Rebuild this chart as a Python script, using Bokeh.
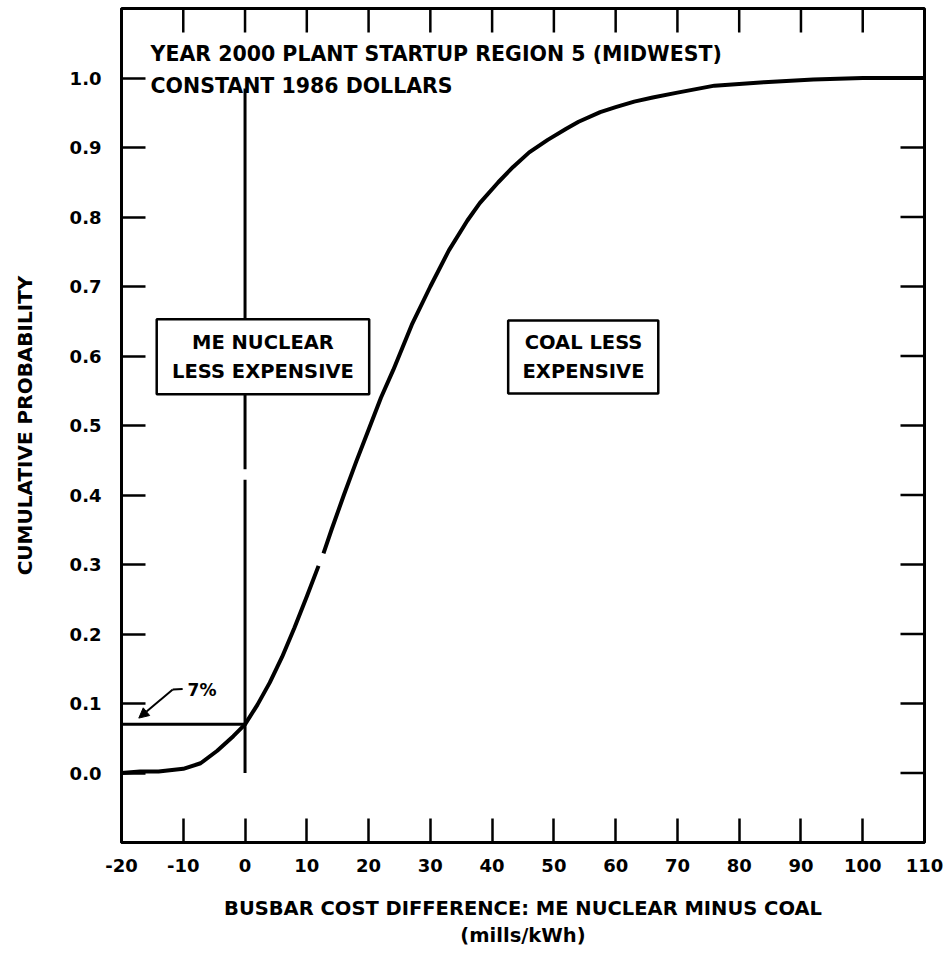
import math
from bokeh.plotting import figure
from bokeh.models import FixedTicker, Range1d, Arrow, NormalHead
from bokeh.core.properties import value
from bokeh.embed import file_html
from bokeh.resources import INLINE

nan = float("nan")

# ---------------- data ----------------
x_ticks = [-20, -10, 0, 10, 20, 30, 40, 50, 60, 70, 80, 90, 100, 110]
x_tick_labels = ["-20", "-10", "0", "10", "20", "30", "40", "50", "60", "70", "80", "90", "100", "110"]
y_ticks = [0.0, 0.1, 0.2, 0.3, 0.4, 0.5, 0.6, 0.7, 0.8, 0.9, 1.0]
y_tick_labels = ["0.0", "0.1", "0.2", "0.3", "0.4", "0.5", "0.6", "0.7", "0.8", "0.9", "1.0"]

# cumulative probability curve (NaN = small break visible in the original print)
curve_x = [-20, -17, -14, -10, -7.2, -4.5, -1.9, 0, 2, 4, 6, 8, 10, 11.9, nan,
           12.7, 14, 16, 18, 20, 22, 24, 27, 30, 33, 36, 38, 41, 43.4, 46, 49, 52,
           54, 57.5, 60, 63, 66, 70, 76, 84, 92, 100, 110]
curve_y = [0.000, 0.002, 0.002, 0.006, 0.014, 0.032, 0.053, 0.070, 0.098, 0.130, 0.167,
           0.209, 0.254, 0.298, nan,
           0.316, 0.350, 0.400, 0.448, 0.494, 0.540, 0.580, 0.645, 0.700, 0.752, 0.795,
           0.820, 0.850, 0.872, 0.893, 0.911, 0.927, 0.937, 0.951, 0.958, 0.966, 0.972,
           0.979, 0.989, 0.994, 0.998, 1.000, 1.000]

# break-even line (x = 0) and the 7% reading
zero_line_x = [0, 0, nan, 0, 0]
zero_line_y = [0.0, 0.422, nan, 0.437, 0.985]
pct_line_x = [-20, 0]
pct_line_y = [0.07, 0.07]

# annotations
title_lines = ["YEAR 2000 PLANT STARTUP REGION 5 (MIDWEST)", "CONSTANT 1986 DOLLARS"]
title_x = [-15.3, -15.3]
title_y = [1.034, 0.989]

box_left = [-14.3, 42.6]
box_right = [20.1, 66.9]
box_top = [0.653, 0.651]
box_bottom = [0.545, 0.546]
box_text = ["ME NUCLEAR", "LESS EXPENSIVE", "COAL LESS", "EXPENSIVE"]
box_text_x = [2.9, 2.9, 54.8, 54.8]
box_text_y = [0.619, 0.577, 0.620, 0.578]

pct_label = ["7%"]
pct_label_x = [-9.3]
pct_label_y = [0.119]
leader_x = [-10.1, -11.7]
leader_y = [0.121, 0.120]
arrow_tip_x = -17.2
arrow_tip_y = 0.079

FONT = "DejaVu Sans"
X_MIN, X_MAX, Y_MIN, Y_MAX = -20, 110, -0.1, 1.1
TICK_LEN = 24

p = figure(width=945, height=953, output_backend="svg", toolbar_location=None,
           x_range=Range1d(X_MIN, X_MAX), y_range=Range1d(Y_MIN, Y_MAX),
           min_border_left=121, min_border_right=21, min_border_top=8, min_border_bottom=111,
           background_fill_color="white", border_fill_color="white")
p.grid.visible = False
p.outline_line_color = "black"
p.outline_line_width = 3

def style_axis(ax, ticks, labels):
    ax.ticker = FixedTicker(ticks=ticks)
    ax.major_tick_in = TICK_LEN
    ax.major_tick_out = 0
    ax.minor_tick_in = 0
    ax.minor_tick_out = 0
    ax.major_tick_line_width = 2.5
    ax.major_tick_line_color = "black"
    ax.axis_line_width = 3
    ax.axis_line_color = "black"
    ax.major_label_overrides = {t: s for t, s in zip(ticks, labels)}
    ax.major_label_text_font = FONT
    ax.major_label_text_font_style = "bold"
    ax.major_label_text_color = "black"
    ax.major_label_text_font_size = "18px"

xa = p.xaxis[0]
style_axis(xa, x_ticks, x_tick_labels)
xa.major_label_standoff = 16
xa.axis_label = "BUSBAR COST DIFFERENCE: ME NUCLEAR MINUS COAL\n(mills/kWh)"
xa.axis_label_text_font = FONT
xa.axis_label_text_font_style = "bold"
xa.axis_label_text_font_size = "19.5px"
xa.axis_label_standoff = 22
xa.axis_label_text_color = "black"

ya = p.yaxis[0]
style_axis(ya, y_ticks, y_tick_labels)
ya.major_label_standoff = 20
ya.axis_label = "CUMULATIVE PROBABILITY"
ya.axis_label_text_font = FONT
ya.axis_label_text_font_style = "bold"
ya.axis_label_text_font_size = "20px"
ya.axis_label_standoff = 30
ya.axis_label_text_color = "black"

# inward ticks on the top and right edges of the frame
p.ray(x=x_ticks, y=[Y_MAX] * len(x_ticks), length=TICK_LEN, length_units="screen",
      angle=-math.pi / 2, line_color="black", line_width=2.5)
p.ray(x=[X_MAX] * len(y_ticks), y=y_ticks, length=TICK_LEN, length_units="screen",
      angle=math.pi, line_color="black", line_width=2.5)

# curve and reference lines
p.line(zero_line_x, zero_line_y, line_color="black", line_width=3)
p.line(pct_line_x, pct_line_y, line_color="black", line_width=3)
p.line(curve_x, curve_y, line_color="black", line_width=4, line_join="round")

# boxes
p.quad(left=box_left, right=box_right, top=box_top, bottom=box_bottom,
       fill_color="white", line_color="black", line_width=2.5)
p.text(x=box_text_x, y=box_text_y, text=box_text, text_align="center", text_baseline="middle",
       text_font=value(FONT), text_font_style="bold", text_font_size="19.5px", text_color="black")

# title text
p.text(x=title_x, y=title_y, text=title_lines, text_align="left", text_baseline="middle",
       text_font=value(FONT), text_font_style="bold", text_font_size="20.5px", text_color="black")

# 7% annotation
p.text(x=pct_label_x, y=pct_label_y, text=pct_label, text_align="left", text_baseline="middle",
       text_font=value(FONT), text_font_style="bold", text_font_size="17px", text_color="black")
p.line(leader_x, leader_y, line_color="black", line_width=2)
p.add_layout(Arrow(x_start=leader_x[-1], y_start=leader_y[-1], x_end=arrow_tip_x, y_end=arrow_tip_y,
                   line_color="black", line_width=2,
                   end=NormalHead(size=10, fill_color="black", line_color="black")))

open("out.html", "w").write(file_html(p, INLINE))
